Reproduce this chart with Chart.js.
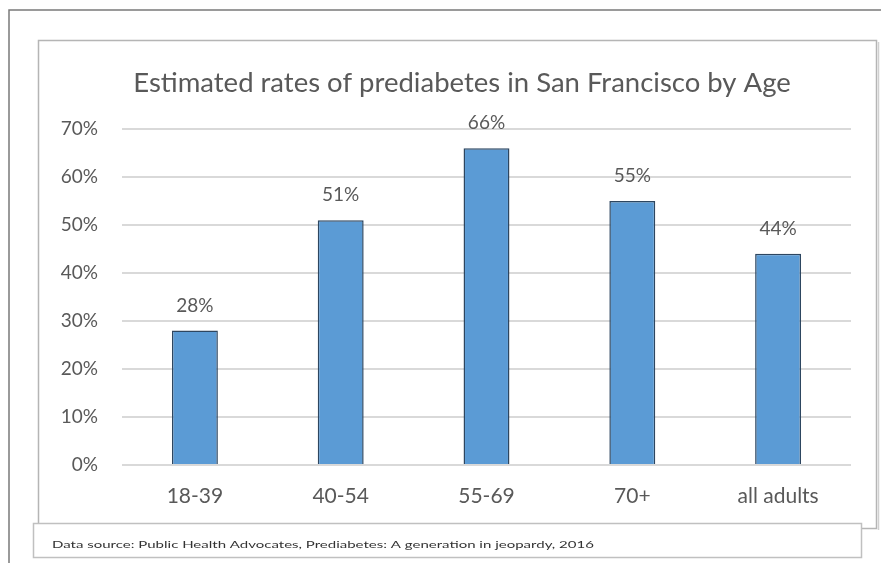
<!DOCTYPE html>
<html>
<head>
<meta charset="utf-8">
<script src="https://cdn.jsdelivr.net/npm/chart.js@4"></script>
<style>
  html, body { margin: 0; padding: 0; background: #fff; }
  #wrap { width: 883px; height: 563px; position: relative; }
</style>
</head>
<body>
<div id="wrap"><canvas id="chart" width="883" height="563"></canvas></div>
<script>
const ageGroups = ['18-39', '40-54', '55-69', '70+', 'all adults'];
const prediabetesRates = [28, 51, 66, 55, 44];
const yTicks = [0, 10, 20, 30, 40, 50, 60, 70];
const chartTitle = 'Estimated rates of prediabetes in San Francisco by Age';
const sourceNote = 'Data source: Public Health Advocates, Prediabetes: A generation in jeopardy, 2016';

const textGray = '#595959';

// frames + title drawn behind the chart, footnote box on top
const framePlugin = {
    id: 'frames',
    beforeDraw(chart) {
        const ctx = chart.ctx;
        ctx.save();
        ctx.fillStyle = '#fff';
        ctx.fillRect(0, 0, chart.width, chart.height);
        // outer frame
        ctx.strokeStyle = '#7a7a7a';
        ctx.lineWidth = 1.5;
        ctx.beginPath();
        ctx.moveTo(9, 563);
        ctx.lineTo(9, 10);
        ctx.lineTo(881, 10);
        ctx.stroke();
        // inner chart box
        ctx.strokeStyle = '#b5b5b5';
        ctx.lineWidth = 1.5;
        ctx.strokeRect(38.5, 40.5, 838, 488);
        ctx.strokeStyle = '#d0d0d0';
        ctx.beginPath();
        ctx.moveTo(878.5, 42);
        ctx.lineTo(878.5, 530);
        ctx.stroke();
        // title, centred on the inner box
        ctx.fillStyle = textGray;
        ctx.font = '27.5px Lato';
        ctx.textAlign = 'center';
        ctx.textBaseline = 'middle';
        ctx.fillText(chartTitle, 462, 83);
        ctx.restore();
    },
    afterDraw(chart) {
        const ctx = chart.ctx;
        ctx.save();
        ctx.fillStyle = '#fff';
        ctx.fillRect(33, 523, 829, 35);
        ctx.strokeStyle = '#c0c0c0';
        ctx.lineWidth = 1.5;
        ctx.strokeRect(33.5, 523.5, 828, 34);
        ctx.fillStyle = '#333';
        ctx.font = '10px Lato';
        ctx.textBaseline = 'middle';
        ctx.translate(52, 545);
        ctx.scale(1.5, 1);
        ctx.fillText(sourceNote, 0, 0);
        ctx.restore();
    }
};

const valueLabels = {
    id: 'valueLabels',
    afterDatasetsDraw(chart) {
        const ctx = chart.ctx;
        const meta = chart.getDatasetMeta(0);
        ctx.save();
        ctx.fillStyle = textGray;
        ctx.font = '19px Lato';
        ctx.textAlign = 'center';
        ctx.textBaseline = 'middle';
        meta.data.forEach((bar, i) => {
            ctx.fillText(prediabetesRates[i] + '%', bar.x, bar.y - 25);
        });
        ctx.restore();
    }
};

const ctx = document.getElementById('chart').getContext('2d');
const chart = new Chart(ctx, {
    type: 'bar',
    data: {
        labels: ageGroups,
        datasets: [{
            data: prediabetesRates,
            backgroundColor: '#5B9BD5',
            borderColor: '#2d4660',
            borderWidth: 1.5,
            barPercentage: 0.315,
            categoryPercentage: 1
        }]
    },
    options: {
        responsive: false,
        animation: false,
        layout: { padding: { top: 129, left: 0, right: 32, bottom: 38 } },
        plugins: {
            legend: { display: false },
            tooltip: { enabled: false },
            title: { display: false }
        },
        scales: {
            x: {
                grid: { display: false, drawTicks: false },
                border: { display: false },
                ticks: { color: textGray, font: { family: 'Lato', size: 21 }, padding: 19 },
                afterFit(scale) { scale.height = 60; }
            },
            y: {
                min: 0,
                max: 70,
                afterBuildTicks(scale) { scale.ticks = yTicks.map(v => ({ value: v })); },
                grid: { color: '#d9d9d9', lineWidth: 2, drawTicks: false },
                border: { display: false },
                ticks: {
                    color: textGray,
                    font: { family: 'Lato', size: 19 },
                    padding: 24,
                    callback: v => v + '%'
                },
                afterFit(scale) { scale.width = 122; }
            }
        }
    },
    plugins: [framePlugin, valueLabels]
});
</script>
</body>
</html>
